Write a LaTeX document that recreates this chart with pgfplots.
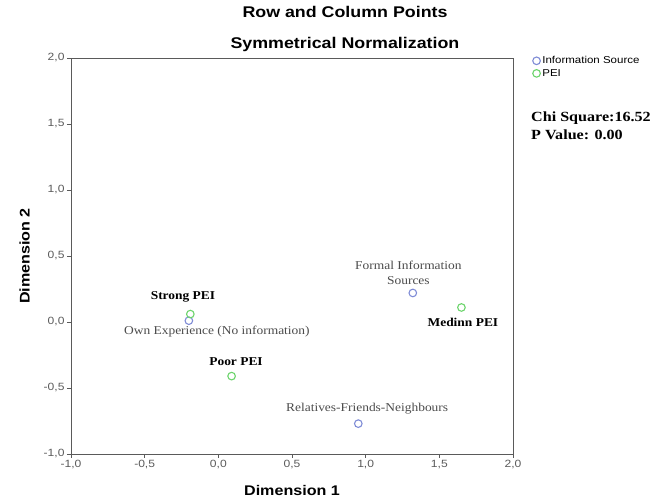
\documentclass[border=0pt]{standalone}
\usepackage{fontspec}
\setmainfont{Liberation Serif}[FakeStretch=1.12]
\newfontfamily\arial{Liberation Sans}[FakeStretch=1.15]
\newfontfamily\timeswide{Liberation Serif}[FakeStretch=1.15]
\usepackage{pgfplots}
\pgfplotsset{compat=1.18}
\definecolor{infoblue}{HTML}{7F8CD6}
\definecolor{peigreen}{HTML}{6CD46C}
\definecolor{axgray}{HTML}{5A5A5A}
\begin{document}
\begin{tikzpicture}[x=1pt,y=1pt]
\useasboundingbox (0,0) rectangle (662,503);
\begin{axis}[
  at={(71pt,49pt)}, anchor=south west,
  scale only axis, width=442pt, height=396pt,
  xmin=-1, xmax=2, ymin=-1, ymax=2,
  xtick={-1,-0.5,...,2}, ytick={-1,-0.5,...,2},
  tick align=outside, tickpos=left,
  major tick length=4pt,
  axis line style={axgray, line width=0.9pt},
  tick style={axgray, line width=0.8pt},
  /pgf/number format/.cd, fixed, fixed zerofill, precision=1, use comma, assume math mode=true,
  /pgfplots/.cd,
  ticklabel style={font=\arial\fontsize{10.5}{12}\selectfont, text=axgray},
  xticklabel style={yshift=1pt},
  yticklabel style={xshift=1pt},
  xlabel={\arial\bfseries Dimension 1},
  ylabel={\arial\bfseries Dimension 2},
  label style={font=\fontsize{14}{16}\selectfont},
  xlabel style={yshift=-9pt},
  ylabel style={yshift=7pt},
  legend style={at={(1.042,1.012)}, anchor=north west, draw=none, font=\arial\fontsize{10}{11}\selectfont, row sep=0pt, inner sep=1pt},
  legend image code/.code={\draw[#1] plot coordinates {(0.1cm,0cm)};},
  legend cell align=left,
  clip=false,
]
\addplot[only marks, mark=o, mark size=3.8pt, infoblue, mark options={line width=1.1pt}] coordinates {
  (-0.20,0.01) (1.32,0.22) (0.95,-0.77)
};
\addlegendentry{Information Source}
\addplot[only marks, mark=o, mark size=3.8pt, peigreen, mark options={line width=1.1pt}] coordinates {
  (-0.19,0.06) (0.09,-0.41) (1.65,0.11)
};
\addlegendentry{PEI}
\node[font=\bfseries\fontsize{12}{14}\selectfont] at (axis cs:-0.24,0.19) {Strong PEI};
\node[font=\fontsize{12}{14}\selectfont, text=black!70] at (axis cs:-0.01,-0.07) {Own Experience (No information)};
\node[font=\bfseries\fontsize{12}{14}\selectfont] at (axis cs:0.12,-0.30) {Poor PEI};
\node[font=\fontsize{12}{15}\selectfont, text=black!70, align=center] at (axis cs:1.29,0.37) {Formal Information\\Sources};
\node[font=\bfseries\fontsize{12}{14}\selectfont] at (axis cs:1.66,0.00) {Medinn PEI};
\node[font=\fontsize{12}{14}\selectfont, text=black!70] at (axis cs:1.01,-0.66) {Relatives-Friends-Neighbours};
\end{axis}
\node[font=\arial\bfseries\fontsize{15.5}{18}\selectfont] at (345,491) {Row and Column Points};
\node[font=\arial\bfseries\fontsize{15.5}{18}\selectfont] at (345,459) {Symmetrical Normalization};
\node[anchor=north west, align=left, font=\timeswide\bfseries\fontsize{14}{18}\selectfont, inner sep=0pt] at (531,391) {Chi Square:16.52\\P Value: 0.00};
\end{tikzpicture}
\end{document}
